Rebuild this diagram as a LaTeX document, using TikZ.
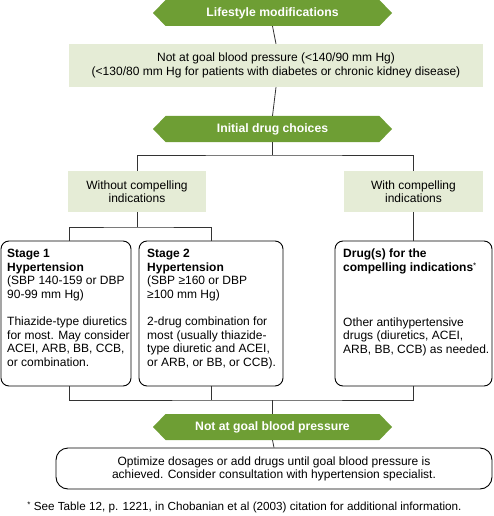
\documentclass[tikz,border=0pt]{standalone}
\usepackage{fontspec}
\setmainfont{Liberation Sans}
\usetikzlibrary{shapes.symbols}
\definecolor{hexgreen}{HTML}{6E9E34}
\definecolor{palegreen}{HTML}{E5ECD6}
\definecolor{linegray}{HTML}{333333}
\newcommand{\smallstar}{\raisebox{3pt}{\fontsize{8}{8}\selectfont *}}
\begin{document}
\begin{tikzpicture}[x=1pt,y=-1pt,
 hexnode/.style={signal, signal to=west and east, signal pointer angle=92, fill=hexgreen, draw=none, minimum width=239pt, minimum height=26pt, inner sep=0pt, text=white, font=\fontsize{12.2}{13}\selectfont\bfseries},
 palebox/.style={fill=palegreen, draw=none, align=center, inner sep=0pt, font=\fontsize{12}{13.5}\selectfont},
 roundbox/.style={draw=black, line width=0.9pt, rounded corners=8pt, inner sep=0pt},
 conn/.style={draw=linegray, line width=0.8pt},
 bodytext/.style={font=\fontsize{12}{13.6}\selectfont, align=left, anchor=north west, inner sep=0pt}
]
\useasboundingbox (0,0) rectangle (494,516);
\node[hexnode] (life) at (272.5,13) {Lifestyle modifications};
\node[palebox, minimum width=414pt, minimum height=43pt] (goal) at (276,65.5) {Not at goal blood pressure (<140/90 mm Hg)\\(<130/80 mm Hg for patients with diabetes or chronic kidney disease)};
\node[hexnode] (init) at (272.5,129) {Initial drug choices};
\node[palebox, minimum width=138pt, minimum height=41pt] (without) at (137,191.5) {Without compelling\\indications};
\node[palebox, minimum width=139pt, minimum height=41pt] (with) at (413.5,191.5) {With compelling\\indications};

\node[roundbox, minimum width=130pt, minimum height=145pt] (s1) at (66,313.5) {};
\node[roundbox, minimum width=144pt, minimum height=145pt] (s2) at (211,313.5) {};
\node[roundbox, minimum width=157pt, minimum height=145pt] (drug) at (413.5,313.5) {};

\node[bodytext] (s1text) at (7,249) {\textbf{Stage 1}\\\textbf{Hypertension}\\(SBP 140-159 or DBP\\90-99 mm Hg)\\[13.6pt]Thiazide-type diuretics\\for most. May consider\\ACEI, ARB, BB, CCB,\\or combination.};
\node[bodytext] (s2text) at (147,249) {\textbf{Stage 2}\\\textbf{Hypertension}\\(SBP ≥160 or DBP\\≥100 mm Hg)\\[13.6pt]2-drug combination for\\most (usually thiazide-\\type diuretic and ACEI,\\or ARB, or BB, or CCB).};
\node[bodytext] (drugtext) at (343,249) {\textbf{Drug(s) for the}\\\textbf{compelling indications}\smallstar\\[41pt]Other antihypertensive\\drugs (diuretics, ACEI,\\ARB, BB, CCB) as needed.};

\node[hexnode] (notgoal) at (272.5,427) {Not at goal blood pressure};
\node[roundbox, rounded corners=12pt, minimum width=436pt, minimum height=41pt, align=center, font=\fontsize{12}{13}\selectfont] (opt) at (274,468.5) {Optimize dosages or add drugs until goal blood pressure is\\achieved. Consider consultation with hypertension specialist.};
\node[font=\fontsize{11.7}{13}\selectfont, inner sep=0pt] (foot) at (244.5,507) {\smallstar\ See Table 12, p. 1221, in Chobanian et al (2003) citation for additional information.};

\draw[conn] (life.south) -- (goal.north);
\draw[conn] (goal.south) -- (init.north);
\coordinate (j1) at (272.5,155);
\draw[conn] (init.south) -- (j1);
\draw[conn] (without.north) |- (j1) -| (with.north);
\coordinate (j2) at (137,227);
\draw[conn] (without.south) -- (j2);
\draw[conn] ([xshift=3pt]s1.north) |- (j2) -| (s2.north);
\draw[conn] (with.south) -- (drug.north);
\coordinate (j3) at (272.5,400);
\draw[conn] ([xshift=3pt]s1.south) |- (j3) -| (drug.south);
\draw[conn] (s2.south) -- (s2.south |- j3);
\draw[conn] (j3) -- (notgoal.north);
\draw[conn] (notgoal.south) -- (opt.north);
\end{tikzpicture}
\end{document}
